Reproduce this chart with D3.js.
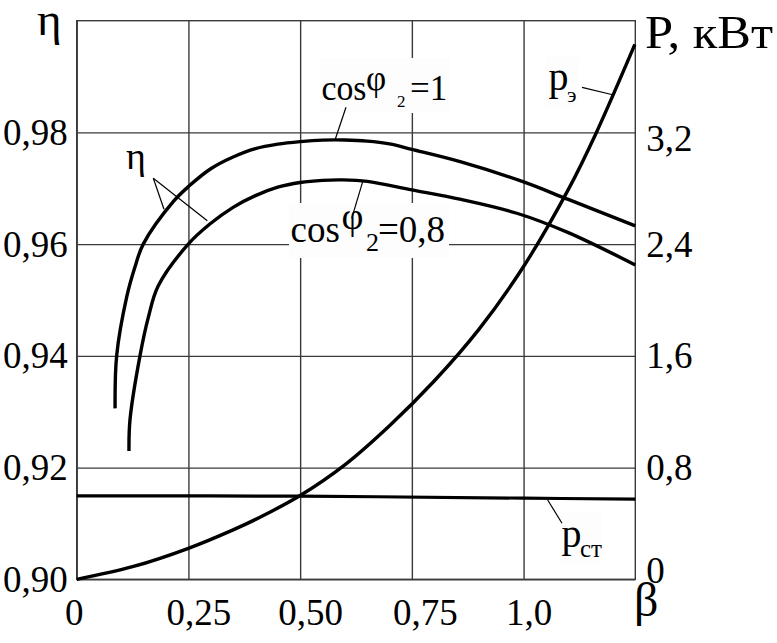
<!DOCTYPE html>
<html><head><meta charset="utf-8">
<script src="https://cdn.jsdelivr.net/npm/d3@7"></script>
<style>
html,body{margin:0;padding:0;background:#fff;}
svg{display:block;}
text{font-family:"Liberation Serif","Times New Roman",serif;fill:#000;}
</style></head>
<body><svg id="chart" width="777" height="643"></svg>
<script>
// ---- data ----
const betaTicks = [0, 0.25, 0.5, 0.75, 1.0];
const betaLabels = ["0", "0,25", "0,50", "0,75", "1,0"];
const etaTicks = [0.90, 0.92, 0.94, 0.96, 0.98];
const etaLabels = ["0,90", "0,92", "0,94", "0,96", "0,98"];
const pTicks = [0, 0.8, 1.6, 2.4, 3.2];
const pLabels = ["0", "0,8", "1,6", "2,4", "3,2"];

// efficiency, cos φ2 = 1
const eta1Beta = [0.0859, 0.0894, 0.1118, 0.13, 0.1489, 0.216, 0.25, 0.30, 0.35, 0.40, 0.45, 0.50, 0.55, 0.60, 0.65, 0.70, 0.75, 0.86, 1.0, 1.1, 1.25];
const eta1Vals = [0.9306, 0.9400, 0.9505, 0.9558, 0.9600, 0.9676, 0.9703, 0.9735, 0.9756, 0.9771, 0.9779, 0.97835, 0.97862, 0.97864, 0.97845, 0.97794, 0.97696, 0.97472, 0.97114, 0.9680, 0.96326];
// efficiency, cos φ2 = 0,8
const eta2Beta = [0.117, 0.1192, 0.1416, 0.16, 0.1823, 0.2496, 0.298, 0.35, 0.40, 0.45, 0.50, 0.55, 0.596, 0.65, 0.75, 0.86, 0.985, 1.1, 1.25];
const eta2Vals = [0.92297, 0.92852, 0.9400, 0.9468, 0.9525, 0.9600, 0.9636, 0.96659, 0.96868, 0.97019, 0.97103, 0.97142, 0.9715, 0.97123, 0.96971, 0.9680, 0.96553, 0.96206, 0.95627];
// electrical losses pэ, kW
const peBeta = [0, 0.125, 0.25, 0.35, 0.41, 0.50, 0.60, 0.70, 0.80, 0.90, 1.0, 1.1, 1.163, 1.249];
const peVals = [0, 0.090, 0.222, 0.354, 0.444, 0.600, 0.82, 1.10, 1.42, 1.79, 2.24, 2.79, 3.20, 3.83];
// core losses pст, kW
const pstBeta = [0, 0.5, 1.0, 1.25];
const pstVals = [0.597, 0.595, 0.581, 0.574];

// ---- layout ----
const svg = d3.select("#chart");
const L = 76.7, R = 635.3, T = 20.7, B = 579.3;
const x = d3.scaleLinear().domain([0, 1.25]).range([L, R]);
const y = d3.scaleLinear().domain([0.90, 1.00]).range([B, T]);
const yP = d3.scaleLinear().domain([0, 4.0]).range([B, T]);

const gridColor = "#3a3a3a";

const gx = svg.append("g").attr("transform", `translate(0,${B})`)
  .call(d3.axisBottom(x).tickValues(betaTicks).tickSize(-(B - T)).tickFormat((d, i) => betaLabels[i]));
gx.select(".domain").remove();
gx.selectAll(".tick line").attr("stroke", gridColor).attr("stroke-width", 1.4);
const xNudge = [-3, 10, 10, 13, 5];
gx.selectAll(".tick text").attr("y", 0).attr("dy", 0)
  .attr("transform", "translate(0,46)")
  .attr("x", (d, i) => xNudge[i])
  .style("font-size", "37px").attr("fill", "#000");

const gy = svg.append("g").attr("transform", `translate(${L},0)`)
  .call(d3.axisLeft(y).tickValues(etaTicks).tickSize(-(R - L)).tickFormat((d, i) => etaLabels[i]));
gy.select(".domain").remove();
gy.selectAll(".tick line").attr("stroke", gridColor).attr("stroke-width", 1.4);
gy.selectAll(".tick text").attr("x", -9).attr("dy", 12)
  .style("font-size", "37px").attr("fill", "#000");

const gp = svg.append("g").attr("transform", `translate(${R},0)`)
  .call(d3.axisRight(yP).tickValues(pTicks).tickSize(0).tickFormat((d, i) => pLabels[i]));
gp.select(".domain").remove();
const pNudge = [3, 12, 12, 12, 18];
gp.selectAll(".tick text").attr("x", 11).attr("dy", (d, i) => pNudge[i])
  .style("font-size", "37px").attr("fill", "#000");

svg.append("rect").attr("x", L).attr("y", T).attr("width", R - L).attr("height", B - T)
  .attr("fill", "none").attr("stroke", gridColor).attr("stroke-width", 1.4);

// curves
const crv = d3.curveCatmullRom.alpha(0.5);
const lineEta = d3.line().x(d => x(d[0])).y(d => y(d[1])).curve(crv);
const lineP = d3.line().x(d => x(d[0])).y(d => yP(d[1])).curve(crv);
const curves = [
  [lineEta, d3.zip(eta1Beta, eta1Vals), 3.4],
  [lineEta, d3.zip(eta2Beta, eta2Vals), 3.4],
  [lineP, d3.zip(peBeta, peVals), 3.4],
  [lineP, d3.zip(pstBeta, pstVals), 3.2]
];
curves.forEach(([gen, pts, w]) => {
  svg.append("path").attr("d", gen(pts)).attr("fill", "none")
    .attr("stroke", "#000").attr("stroke-width", w).attr("stroke-linecap", "butt");
});

// label backgrounds
const boxes = [[320, 58, 130, 55], [289, 203, 160, 55], [546, 57, 33, 50], [560, 513, 42, 50]];
boxes.forEach(b => svg.append("rect").attr("x", b[0]).attr("y", b[1]).attr("width", b[2]).attr("height", b[3]).attr("fill", "#fdfdfd"));

// leader lines
const leaders = [
  [153.3, 178.3, 164, 209.3], [153.3, 178.3, 207.3, 220.7],
  [346, 107.3, 335, 140], [362.7, 181.7, 351.7, 218.3],
  [582, 87.3, 613.7, 95], [547.7, 500, 562, 523.3]
];
leaders.forEach(l => svg.append("line").attr("x1", l[0]).attr("y1", l[1]).attr("x2", l[2]).attr("y2", l[3])
  .attr("stroke", "#000").attr("stroke-width", 1.2));

function txt(s, xx, yy, size) {
  return svg.append("text").attr("x", xx).attr("y", yy).style("font-size", size + "px").text(s);
}
txt("η", 37, 35, 47);
txt("P, кВт", 645, 48, 47).attr("textLength", 128).attr("lengthAdjust", "spacingAndGlyphs");
txt("β", 634, 616, 48);
txt("η", 126, 169, 38);

// cos φ2 = 1
txt("cos", 321.5, 100, 35).attr("textLength", 45).attr("lengthAdjust", "spacingAndGlyphs");
txt("φ", 366, 90, 35);
txt("2", 397, 106.7, 17);
txt("=1", 410, 100, 35);

// cos φ2 = 0,8
txt("cos", 290.5, 241.7, 37);
txt("φ", 341.5, 228.6, 38);
txt("2", 366, 250.7, 26);
txt("=0,8", 378, 241.7, 37);

// pэ
txt("p", 548.5, 90, 40);
txt("э", 567, 101.7, 22);
// pст
txt("p", 561.5, 546.5, 40);
txt("ст", 580, 556.7, 25);
</script></body></html>
